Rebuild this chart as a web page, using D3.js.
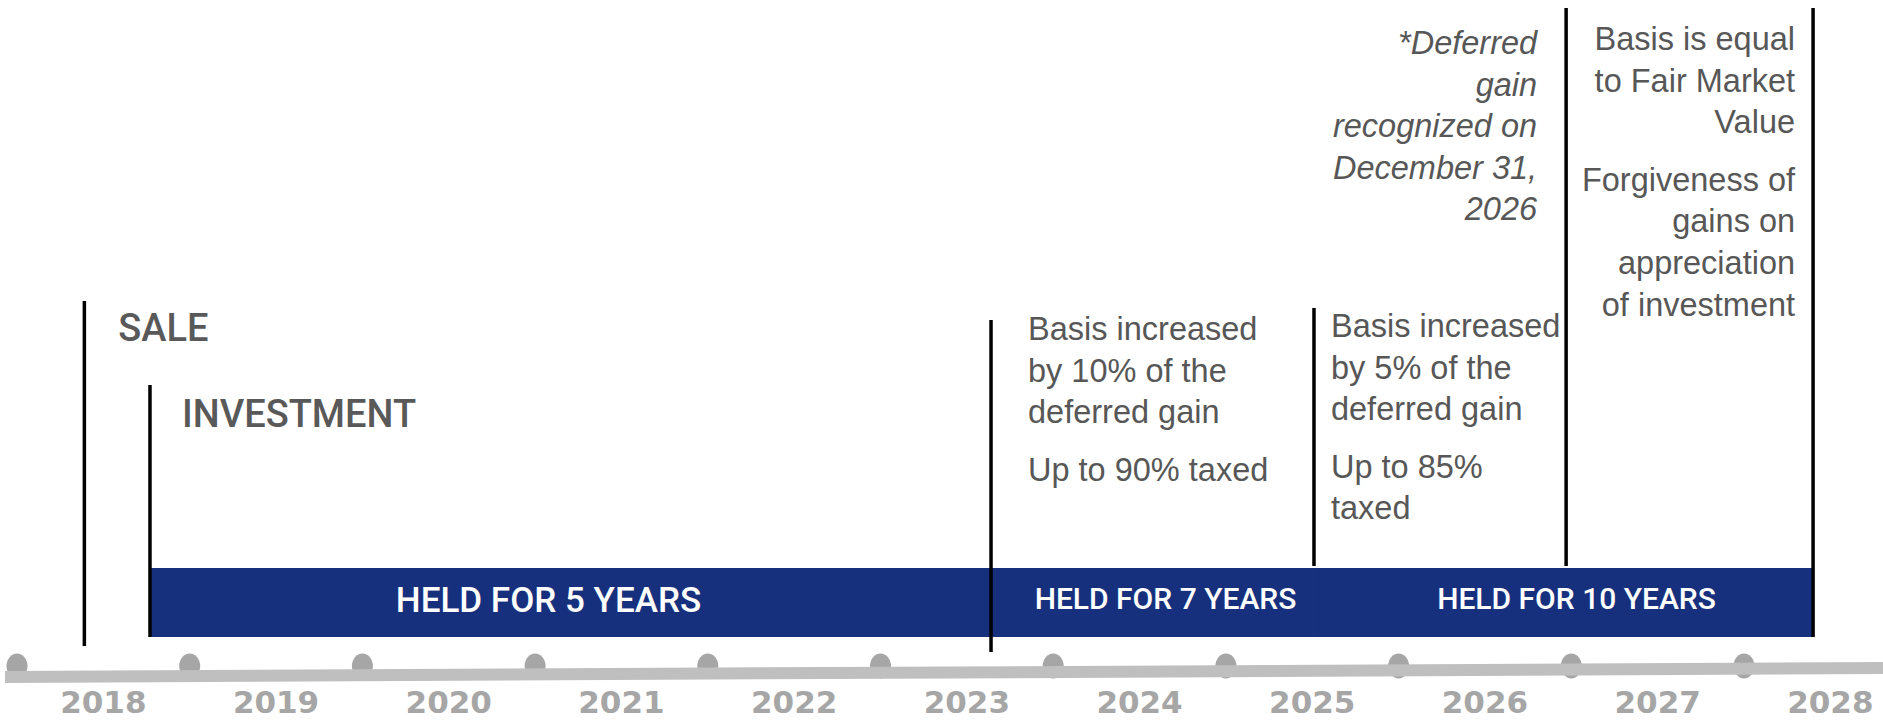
<!DOCTYPE html>
<html>
<head>
<meta charset="utf-8">
<script src="https://cdn.jsdelivr.net/npm/d3@7"></script>
<style>
  body { margin: 0; background: #fff; }
  .body-txt { font-family: "Liberation Sans", Arial, sans-serif; font-size: 32.5px; fill: #575757; }
  .title-txt { font-family: Roboto, sans-serif; font-weight: 500; font-size: 38px; fill: #595959; }
  .note-txt { font-family: "Liberation Sans", Arial, sans-serif; font-style: italic; font-size: 32.5px; fill: #575757; }
  .bar-txt { font-family: Roboto, sans-serif; font-weight: 500; fill: #fff; }
  .year-txt { font-family: "DejaVu Sans", sans-serif; font-weight: bold; font-size: 31px; fill: #a6a6a6; }
</style>
</head>
<body>
<div id="chart"></div>
<script>
// timeline values
const years = [2018, 2019, 2020, 2021, 2022, 2023, 2024, 2025, 2026, 2027, 2028];
const eventNames = ["SALE", "INVESTMENT", "5 years", "7 years", "Dec 31 2026", "10 years"];
const eventYears = [2018.39, 2018.77, 2023.64, 2025.51, 2026.97, 2028.40];

const holdLabels = ["HELD FOR 5 YEARS", "HELD FOR 7 YEARS", "HELD FOR 10 YEARS"];
const holdFrom = [1, 2, 3];   // index into eventYears
const holdTo = [2, 3, 5];

const note5 = [["Basis increased", "by 10% of the", "deferred gain"], ["Up to 90% taxed"]];
const note7 = [["Basis increased", "by 5% of the", "deferred gain"], ["Up to 85%", "taxed"]];
const noteDeferred = [["*Deferred", "gain", "recognized on", "December 31,", "2026"]];
const note10 = [["Basis is equal", "to Fair Market", "Value"], ["Forgiveness of", "gains on", "appreciation", "of investment"]];

const width = 1883, height = 722;

let x = d3.scaleLinear()
  .domain([2018, 2028])
  .range([17, 1744]);

// the grey axis line tilts up a little to the right
let axisY = d3.scaleLinear().domain([0, width]).range([677, 668]);

let svg = d3.select("#chart")
  .append("svg")
    .attr("width", width)
    .attr("height", height);

// dots sit behind the axis line
svg.selectAll("ellipse.dot")
  .data(years)
  .enter()
  .append("ellipse")
    .attr("class", "dot")
    .attr("cx", d => x(d))
    .attr("cy", 666)
    .attr("rx", 10.5)
    .attr("ry", 12.5)
    .attr("fill", "#a6a6a6");

svg.append("line")
  .attr("x1", 5).attr("y1", axisY(5))
  .attr("x2", width).attr("y2", axisY(width))
  .attr("stroke", "#bfbfbf")
  .attr("stroke-width", 12);

svg.selectAll("text.year")
  .data(years)
  .enter()
  .append("text")
    .attr("class", "year-txt")
    .attr("x", d => x(d + 0.5))
    .attr("y", 713)
    .attr("text-anchor", "middle")
    .text(d => d);

// holding period bar
let barTop = 568, barH = 69;
let holds = holdLabels.map((l, i) => ({label: l, a: eventYears[holdFrom[i]], b: eventYears[holdTo[i]]}));
let labelSize = [35, 30, 30];
let labelShift = [-22, 13, 13];

svg.selectAll("rect.hold")
  .data(holds)
  .enter()
  .append("rect")
    .attr("class", "hold")
    .attr("x", d => x(d.a))
    .attr("y", barTop)
    .attr("width", d => x(d.b) - x(d.a))
    .attr("height", barH)
    .attr("fill", "#17307e");

svg.selectAll("text.hold")
  .data(holds)
  .enter()
  .append("text")
    .attr("class", "bar-txt")
    .attr("x", (d, i) => (x(d.a) + x(d.b)) / 2 + labelShift[i])
    .attr("y", (d, i) => i == 0 ? 612 : 609)
    .attr("text-anchor", "middle")
    .style("font-size", (d, i) => labelSize[i] + "px")
    .text(d => d.label);

// vertical event markers
let spans = [[301, 646], [385, 637], [320, 652], [308, 566], [8, 566], [8, 637]];

svg.selectAll("line.event")
  .data(eventYears)
  .enter()
  .append("line")
    .attr("class", "event")
    .attr("x1", d => x(d)).attr("x2", d => x(d))
    .attr("y1", (d, i) => spans[i][0])
    .attr("y2", (d, i) => spans[i][1])
    .attr("stroke", "#000")
    .attr("stroke-width", 3.5);

// text blocks hung off each marker
let blocks = [
  {ev: 0, dx: 34, anchor: "start", cls: "title-txt", y0: 341, paras: [["SALE"]]},
  {ev: 1, dx: 32, anchor: "start", cls: "title-txt", y0: 427, paras: [["INVESTMENT"]]},
  {ev: 2, dx: 37, anchor: "start", cls: "body-txt", y0: 340, paras: note5},
  {ev: 3, dx: 17, anchor: "start", cls: "body-txt", y0: 337, paras: note7},
  {ev: 4, dx: -29, anchor: "end", cls: "note-txt", y0: 54, paras: noteDeferred},
  {ev: 5, dx: -18, anchor: "end", cls: "body-txt", y0: 50, paras: note10}
];
let lineH = 41.6, paraGap = 16;

blocks.forEach(b => {
  let rows = [];
  let y = b.y0;
  b.paras.forEach((p, pi) => {
    if (pi > 0) y += paraGap;
    p.forEach(t => { rows.push({t: t, y: y}); y += lineH; });
  });
  svg.append("g")
    .selectAll("text")
    .data(rows)
    .enter()
    .append("text")
      .attr("class", b.cls)
      .attr("x", x(eventYears[b.ev]) + b.dx)
      .attr("y", d => d.y)
      .attr("text-anchor", b.anchor)
      .text(d => d.t);
});
</script>
</body>
</html>
